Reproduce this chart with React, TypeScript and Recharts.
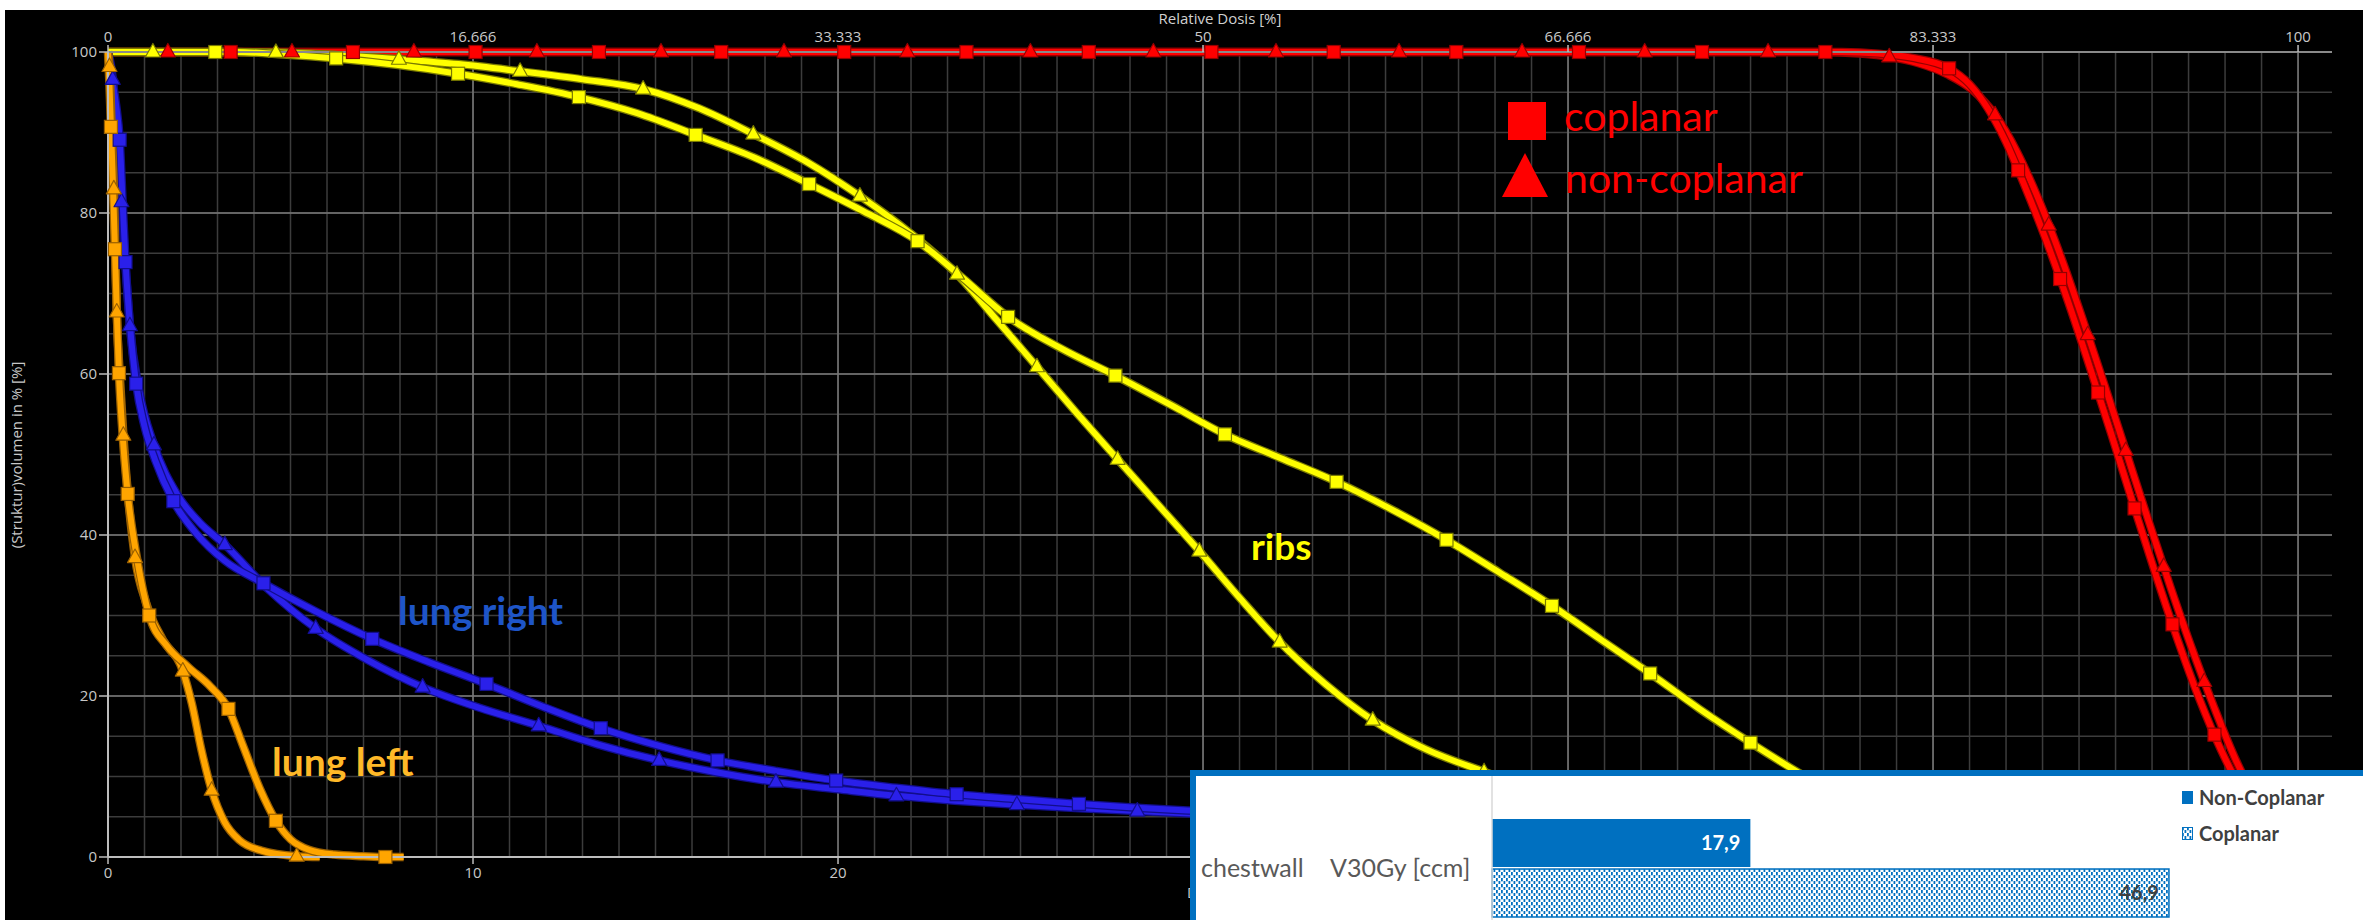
import React from 'react';
import {
  ComposedChart,
  Line,
  XAxis,
  YAxis,
  CartesianGrid,
  BarChart,
  Bar,
  LabelList,
} from 'recharts';

type Pt = [number, number]; // [dose in Gy, volume in %]

// ---------- axes ----------
const DOSE_MAX = 60.93; // Gy at the right edge of the plot
const PRESCRIPTION = 60; // Gy that equals 100 % relative dose

const doseTicks = [0, 10, 20, 30, 40, 50, 60];
const relativeDoseTicks = [0, 16.666, 33.333, 50, 66.666, 83.333, 100];
const volumeTicks = [0, 20, 40, 60, 80, 100];

// grid: fine lines every 1 Gy / 5 %, coarse lines every 10 Gy / 20 %
const fineDoseGrid = Array.from({ length: 60 }, (_, i) => i + 1);
const fineVolumeGrid = Array.from({ length: 19 }, (_, i) => (i + 1) * 5);
const coarseDoseGrid = [10, 20, 30, 40, 50, 60];
const coarseVolumeGrid = [20, 40, 60, 80];

// ---------- PTV (red) ----------
const ptvCoplanarCurve: Pt[] = [
  [0, 100], [47.5, 100], [48.5, 99.8], [49.4, 99.3], [50.44, 97.97], [51.0, 96.0], [51.5, 93.0],
  [52.0, 88.8], [52.5, 83.5], [53.1, 76.6], [53.7, 69.0], [54.3, 60.8], [54.9, 52.3], [55.5, 43.6],
  [56.1, 35.1], [56.7, 27.0], [57.3, 19.6], [57.9, 13.2], [58.5, 8.0], [59.1, 4.3], [59.7, 1.9],
  [60.3, 0.6], [60.93, 0],
];
const ptvCoplanarMarks: Pt[] = [
  [3.36, 100], [6.71, 100], [10.07, 100], [13.45, 100], [16.8, 100], [20.17, 100], [23.52, 100],
  [26.87, 100], [30.23, 100], [33.58, 100], [36.94, 100], [40.3, 100], [43.67, 100], [47.05, 100],
  [50.44, 97.97], [52.33, 85.3], [53.48, 71.8], [54.52, 57.7], [55.52, 43.3], [56.56, 28.9],
  [57.71, 15.2], [59.27, 3.6],
];
const ptvNonCoplanarCurve: Pt[] = [
  [0, 100], [47.0, 100], [48.0, 99.8], [48.8, 99.4], [49.6, 98.6], [50.4, 97.2], [51.1, 95.2],
  [51.7, 92.2], [52.3, 87.6], [52.9, 81.6], [53.5, 74.6], [54.1, 66.8], [54.7, 58.6], [55.3, 50.2],
  [55.9, 41.8], [56.5, 33.6], [57.1, 25.8], [57.7, 18.6], [58.3, 12.0], [58.9, 6.8], [59.5, 3.2],
  [60.1, 1.1], [60.6, 0.2], [60.93, 0],
];
const ptvNonCoplanarMarks: Pt[] = [
  [1.64, 100], [5.04, 100], [8.38, 100], [11.75, 100], [15.15, 100], [18.52, 100], [21.9, 100],
  [25.27, 100], [28.64, 100], [32.0, 100], [35.37, 100], [38.74, 100], [42.1, 100], [45.48, 100],
  [48.8, 99.4], [51.7, 92.2], [53.17, 78.5], [54.24, 64.9], [55.28, 50.5], [56.32, 36.1],
  [57.43, 21.8], [58.82, 7.4],
];

// ---------- ribs (yellow) ----------
const ribsCoplanarCurve: Pt[] = [
  [0, 100], [3.5, 100], [4.8, 99.7], [6.25, 99.2], [7.9, 98.4], [9.59, 97.3], [11.2, 96.0],
  [12.9, 94.4], [14.5, 92.4], [16.1, 89.7], [17.7, 86.9], [19.21, 83.6], [20.7, 80.2], [22.18, 76.5],
  [23.4, 72.0], [24.66, 67.1], [26.1, 63.2], [27.6, 59.8], [29.1, 56.2], [30.6, 52.5], [32.1, 49.6],
  [33.66, 46.6], [35.2, 43.1], [36.67, 39.4], [38.1, 35.4], [39.56, 31.2], [40.9, 27.0],
  [42.25, 22.8], [43.6, 18.4], [45.0, 14.2], [46.5, 10.0], [48.0, 6.5], [49.5, 3.6], [51.0, 1.6],
  [52.5, 0.5], [54.0, 0],
];
const ribsCoplanarMarks: Pt[] = [
  [2.94, 100], [6.25, 99.2], [9.59, 97.3], [12.9, 94.4], [16.1, 89.7], [19.21, 83.6], [22.18, 76.5],
  [24.66, 67.1], [27.6, 59.8], [30.6, 52.5], [33.66, 46.6], [36.67, 39.4], [39.56, 31.2],
  [42.25, 22.8], [45.0, 14.2], [47.8, 7.0],
];
const ribsNonCoplanarCurve: Pt[] = [
  [0, 100], [3.0, 100], [4.6, 99.95], [6.3, 99.6], [7.97, 99.1], [9.6, 98.5], [11.29, 97.6],
  [13.0, 96.6], [14.66, 95.4], [16.2, 93.0], [17.68, 89.8], [19.2, 86.2], [20.6, 82.1],
  [21.95, 77.6], [23.26, 72.4], [24.35, 66.7], [25.45, 60.9], [26.55, 55.1], [27.66, 49.4],
  [28.8, 43.6], [29.9, 38.0], [31.0, 32.2], [32.1, 26.7], [33.35, 21.5], [34.65, 17.0],
  [36.1, 13.4], [37.7, 10.6], [39.5, 7.8], [41.5, 5.2], [43.5, 3.0], [45.5, 1.4], [47.5, 0.4],
  [49.0, 0],
];
const ribsNonCoplanarMarks: Pt[] = [
  [1.23, 100], [4.6, 99.95], [7.97, 99.1], [11.29, 97.6], [14.66, 95.4], [17.68, 89.8], [20.6, 82.1],
  [23.26, 72.4], [25.45, 60.9], [27.66, 49.4], [29.9, 38.0], [32.1, 26.7], [34.65, 17.0],
  [37.7, 10.6], [41.0, 5.8],
];

// ---------- lung right (blue) ----------
const lungRightCoplanarCurve: Pt[] = [
  [0, 100], [0.1, 97], [0.22, 93.5], [0.32, 89.1], [0.4, 81.5], [0.48, 73.9], [0.6, 66.2],
  [0.77, 58.8], [1.0, 53.5], [1.3, 49.2], [1.79, 44.2], [2.4, 40.3], [3.2, 36.8], [4.26, 34.0],
  [5.7, 30.5], [7.24, 27.1], [8.8, 24.2], [10.37, 21.5], [11.9, 18.7], [13.5, 16.0], [15.1, 13.8],
  [16.7, 12.0], [18.3, 10.7], [19.95, 9.5], [21.6, 8.6], [23.25, 7.8], [24.9, 7.2], [26.6, 6.6],
  [28.3, 6.1], [29.95, 5.7], [33.0, 5.0], [36.0, 4.4], [40.0, 3.6], [45.0, 2.6], [50.0, 1.6],
  [55.0, 0.8], [60.0, 0.2],
];
const lungRightCoplanarMarks: Pt[] = [
  [0.32, 89.1], [0.48, 73.9], [0.77, 58.8], [1.79, 44.2], [4.26, 34.0], [7.24, 27.1], [10.37, 21.5],
  [13.5, 16.0], [16.7, 12.0], [19.95, 9.5], [23.25, 7.8], [26.6, 6.6], [29.95, 5.7], [33.3, 4.95],
];
const lungRightNonCoplanarCurve: Pt[] = [
  [0, 100], [0.13, 96.6], [0.25, 89.0], [0.37, 81.4], [0.48, 73.5], [0.6, 66.0], [0.85, 58.0],
  [1.26, 51.2], [1.9, 45.0], [2.5, 41.6], [3.2, 38.8], [4.4, 33.2], [5.69, 28.4], [7.1, 24.5],
  [8.62, 21.1], [10.2, 18.5], [11.8, 16.3], [13.4, 14.0], [15.1, 12.0], [16.7, 10.5], [18.3, 9.3],
  [20.0, 8.4], [21.6, 7.6], [23.2, 7.0], [24.9, 6.5], [26.5, 6.1], [28.2, 5.7], [31.5, 5.0],
  [35.0, 4.3], [40.0, 3.4], [45.0, 2.5], [50.0, 1.5], [55.0, 0.7], [60.0, 0.1],
];
const lungRightNonCoplanarMarks: Pt[] = [
  [0.13, 96.6], [0.37, 81.4], [0.6, 66.0], [1.26, 51.2], [3.2, 38.8], [5.69, 28.4], [8.62, 21.1],
  [11.8, 16.3], [15.1, 12.0], [18.3, 9.3], [21.6, 7.6], [24.9, 6.5], [28.2, 5.7], [31.5, 5.0],
];

// ---------- lung left (orange) ----------
const lungLeftCoplanarCurve: Pt[] = [
  [0, 100], [0.04, 96], [0.08, 90.7], [0.14, 83], [0.19, 75.5], [0.24, 67.8], [0.3, 60.1],
  [0.4, 52.5], [0.54, 45.1], [0.78, 37.5], [1.13, 30.0], [1.6, 26.3], [2.2, 23.6], [2.8, 21.2],
  [3.3, 18.4], [3.7, 13.8], [4.15, 8.6], [4.6, 4.5], [5.0, 2.2], [5.5, 0.9], [6.2, 0.3], [7.0, 0.1],
  [7.6, 0], [8.1, 0],
];
const lungLeftCoplanarMarks: Pt[] = [
  [0.08, 90.7], [0.19, 75.5], [0.3, 60.1], [0.54, 45.1], [1.13, 30.0], [3.3, 18.4], [4.6, 4.5],
  [7.6, 0],
];
const lungLeftNonCoplanarCurve: Pt[] = [
  [0, 100], [0.04, 98.2], [0.1, 90.5], [0.16, 83.0], [0.2, 75.5], [0.24, 67.7], [0.32, 60.0],
  [0.42, 52.4], [0.55, 44.8], [0.74, 37.2], [1.05, 31.5], [1.5, 27.0], [2.05, 23.1], [2.3, 19.0],
  [2.55, 13.5], [2.84, 8.3], [3.2, 4.3], [3.6, 2.1], [4.2, 0.8], [5.17, 0.1], [5.8, 0],
];
const lungLeftNonCoplanarMarks: Pt[] = [
  [0.04, 98.2], [0.16, 83.0], [0.24, 67.7], [0.42, 52.4], [0.74, 37.2], [2.05, 23.1], [2.84, 8.3],
  [5.17, 0.1],
];

// ---------- inset bar chart ----------
const structures = ['chestwall'];
const metrics = ['V30Gy [ccm]'];
const nonCoplanarV30 = [17.9];
const coplanarV30 = [46.9];
const barSeriesNames = ['Non-Coplanar', 'Coplanar'];

// ---------- labels ----------
const planLegend = ['coplanar', 'non-coplanar'];
const structureLabels = ['lung right', 'lung left', 'ribs'];
const axisTitles = ['Relative Dosis [%]', '(Struktur)volumen in % [%]', 'Dosis [Gy]'];

type Shape = 'square' | 'triangle';
interface DvhSeries {
  id: string;
  curve: Pt[];
  marks: Pt[];
  color: string;
  edge: string;
  shape: Shape;
}

const dvhSeries: DvhSeries[] = [
  { id: 'ptv-nc', curve: ptvNonCoplanarCurve, marks: ptvNonCoplanarMarks, color: '#ff0000', edge: '#960000', shape: 'triangle' },
  { id: 'ptv-c', curve: ptvCoplanarCurve, marks: ptvCoplanarMarks, color: '#ff0000', edge: '#960000', shape: 'square' },
  { id: 'ribs-nc', curve: ribsNonCoplanarCurve, marks: ribsNonCoplanarMarks, color: '#ffff00', edge: '#7a7a00', shape: 'triangle' },
  { id: 'ribs-c', curve: ribsCoplanarCurve, marks: ribsCoplanarMarks, color: '#ffff00', edge: '#7a7a00', shape: 'square' },
  { id: 'lr-nc', curve: lungRightNonCoplanarCurve, marks: lungRightNonCoplanarMarks, color: '#2a20ea', edge: '#120e8c', shape: 'triangle' },
  { id: 'lr-c', curve: lungRightCoplanarCurve, marks: lungRightCoplanarMarks, color: '#2a20ea', edge: '#120e8c', shape: 'square' },
  { id: 'll-nc', curve: lungLeftNonCoplanarCurve, marks: lungLeftNonCoplanarMarks, color: '#ffa500', edge: '#9a6000', shape: 'triangle' },
  { id: 'll-c', curve: lungLeftCoplanarCurve, marks: lungLeftCoplanarMarks, color: '#ffa500', edge: '#9a6000', shape: 'square' },
];

const toRows = (pts: Pt[]) => pts.map(([d, v]) => ({ d, v }));

// anchors the relative-dose axis so that its ticks are laid out
const relativeDoseRows = relativeDoseTicks.map((d) => ({ d, v: 100 }));

const markerDot = (shape: Shape, fill: string, edge: string, id: string) => (props: any) => {
  const { cx, cy, index } = props;
  const key = `${id}-${index}`;
  if (typeof cx !== 'number' || typeof cy !== 'number') return <g key={key} />;
  if (shape === 'square') {
    return (
      <rect key={key} x={cx - 6.5} y={cy - 6.5} width={13} height={13} fill={fill} stroke={edge} strokeWidth={1.2} />
    );
  }
  return (
    <polygon
      key={key}
      points={`${cx},${cy - 8.5} ${cx + 7.5},${cy + 5} ${cx - 7.5},${cy + 5}`}
      fill={fill}
      stroke={edge}
      strokeWidth={1.2}
      strokeLinejoin="round"
    />
  );
};

const tickFont = { fill: '#c8c8c8', fontSize: 15, fontFamily: '"Open Sans", sans-serif' };
const axisGray = '#bdbdbd';
const frameGray = '#8a8a8a';

const decimalComma = (v: any) => String(v).replace('.', ',');

const barRows = structures.map((s, i) => ({
  structure: s,
  metric: metrics[i],
  nonCoplanar: nonCoplanarV30[i],
  coplanar: coplanarV30[i],
}));

const CategoryTick = (props: any) => {
  const { y, payload } = props;
  const row = barRows.find((r) => r.structure === payload.value);
  const font = { fill: '#595959', fontSize: 25, fontFamily: 'Lato, sans-serif' };
  return (
    <g>
      <text x={5} y={y} dy="0.35em" {...font}>
        {payload.value}
      </text>
      <text x={134} y={y} dy="0.35em" {...font}>
        {row ? row.metric : ''}
      </text>
    </g>
  );
};

const DotsPattern = ({ id }: { id: string }) => (
  <pattern id={id} width={5} height={6} patternUnits="userSpaceOnUse">
    <rect width={5} height={6} fill="#ffffff" />
    <rect x={0} y={0} width={1.8} height={3.3} fill="#0070C0" />
    <rect x={2.5} y={3} width={1.8} height={3.3} fill="#0070C0" />
  </pattern>
);

export default function App() {
  const legendText: React.CSSProperties = {
    fontFamily: 'Lato, sans-serif',
    fontWeight: 700,
    fontSize: 20,
    color: '#404040',
    whiteSpace: 'nowrap',
  };
  const annot = { fontFamily: 'Lato, sans-serif', fontWeight: 700 } as const;

  return (
    <div
      style={{
        position: 'absolute',
        left: 0,
        top: 0,
        width: 2363,
        height: 920,
        overflow: 'hidden',
        background: '#ffffff',
      }}
    >
      <div style={{ position: 'absolute', left: 5, top: 10, width: 2358, height: 910, background: '#000000' }} />

      <div style={{ position: 'absolute', left: 0, top: 0 }}>
        <ComposedChart width={2363} height={920} margin={{ top: 22, right: 31, bottom: 23, left: 48 }}>
          <CartesianGrid
            verticalValues={fineDoseGrid}
            horizontalValues={fineVolumeGrid}
            stroke="#3c3c3c"
            strokeWidth={1.5}
          />
          <CartesianGrid
            verticalValues={coarseDoseGrid}
            horizontalValues={coarseVolumeGrid}
            stroke="#777777"
            strokeWidth={1.5}
          />
          <XAxis
            dataKey="d"
            type="number"
            domain={[0, DOSE_MAX]}
            ticks={doseTicks}
            interval={0}
            height={40}
            tickSize={7}
            tickMargin={3}
            axisLine={{ stroke: axisGray, strokeWidth: 2 }}
            tickLine={{ stroke: axisGray, strokeWidth: 1.5 }}
            tick={tickFont}
          />
          <XAxis
            xAxisId="top"
            dataKey="d"
            orientation="top"
            type="number"
            domain={[0, (DOSE_MAX / PRESCRIPTION) * 100]}
            allowDataOverflow
            ticks={relativeDoseTicks}
            interval={0}
            height={30}
            tickSize={7}
            tickMargin={3}
            tickFormatter={(v: number) => String(v)}
            axisLine={{ stroke: frameGray, strokeWidth: 2 }}
            tickLine={{ stroke: axisGray, strokeWidth: 1.5 }}
            tick={tickFont}
          />
          <YAxis
            dataKey="v"
            type="number"
            domain={[0, 100]}
            ticks={volumeTicks}
            interval={0}
            width={60}
            tickSize={9}
            tickMargin={2}
            axisLine={{ stroke: axisGray, strokeWidth: 2 }}
            tickLine={{ stroke: axisGray, strokeWidth: 1.5 }}
            tick={tickFont}
          />
          <YAxis
            yAxisId="frame"
            orientation="right"
            type="number"
            domain={[0, 100]}
            width={0}
            tick={false}
            tickLine={false}
            axisLine={{ stroke: frameGray, strokeWidth: 2 }}
          />
          <Line
            xAxisId="top"
            data={relativeDoseRows}
            dataKey="v"
            stroke="none"
            dot={false}
            activeDot={false}
            isAnimationActive={false}
            legendType="none"
          />
          {dvhSeries.flatMap((s) => [
            <Line
              key={`${s.id}-edge`}
              data={toRows(s.curve)}
              dataKey="v"
              type="monotone"
              stroke={s.edge}
              strokeWidth={8.5}
              dot={false}
              activeDot={false}
              isAnimationActive={false}
              legendType="none"
            />,
            <Line
              key={`${s.id}-line`}
              data={toRows(s.curve)}
              dataKey="v"
              type="monotone"
              stroke={s.color}
              strokeWidth={6}
              dot={false}
              activeDot={false}
              isAnimationActive={false}
              legendType="none"
            />,
            <Line
              key={`${s.id}-marks`}
              data={toRows(s.marks)}
              dataKey="v"
              stroke="none"
              dot={markerDot(s.shape, s.color, s.edge, s.id)}
              activeDot={false}
              isAnimationActive={false}
              legendType="none"
            />,
          ])}
        </ComposedChart>
      </div>

      <svg width={2363} height={920} style={{ position: 'absolute', left: 0, top: 0, pointerEvents: 'none' }}>
        <text x={1220} y={18} textAnchor="middle" dominantBaseline="central" fill="#d0d0d0" fontSize={15} fontFamily='"Open Sans", sans-serif'>
          {axisTitles[0]}
        </text>
        <text
          x={16}
          y={455}
          transform="rotate(-90 16 455)"
          textAnchor="middle"
          dominantBaseline="central"
          fill="#c8c8c8"
          fontSize={15}
          fontFamily='"Open Sans", sans-serif'
        >
          {axisTitles[1]}
        </text>
        <text x={1222} y={892} textAnchor="middle" dominantBaseline="central" fill="#c8c8c8" fontSize={15} fontFamily='"Open Sans", sans-serif'>
          {axisTitles[2]}
        </text>

        <text x={398} y={625} fill="#1e55c8" fontSize={39} {...annot}>
          {structureLabels[0]}
        </text>
        <text x={272} y={776} fill="#ffb928" fontSize={39} {...annot}>
          {structureLabels[1]}
        </text>
        <text x={1251} y={560} fill="#ffff00" fontSize={37} {...annot}>
          {structureLabels[2]}
        </text>

        <rect x={1508} y={102} width={38} height={38} fill="#ff0000" />
        <polygon points="1502,197 1548,197 1525,153" fill="#ff0000" />
        <text x={1564} y={131} fill="#ff0000" fontSize={41} fontFamily="Lato, sans-serif">
          {planLegend[0]}
        </text>
        <text x={1565} y={193} fill="#ff0000" fontSize={41} fontFamily="Lato, sans-serif">
          {planLegend[1]}
        </text>
      </svg>

      <div
        style={{
          position: 'absolute',
          left: 1190,
          top: 770,
          width: 1260,
          height: 260,
          boxSizing: 'border-box',
          borderLeft: '6px solid #0070C0',
          borderTop: '6px solid #0070C0',
          background: '#ffffff',
        }}
      >
        <BarChart
          width={1240}
          height={184}
          data={barRows}
          layout="vertical"
          margin={{ top: 0, right: 0, bottom: 0, left: 0 }}
          barSize={48}
          barGap={2}
        >
          <defs>
            <DotsPattern id="coplanarDots" />
          </defs>
          <XAxis type="number" domain={[0, 65.4]} hide />
          <YAxis
            type="category"
            dataKey="structure"
            width={296}
            tick={<CategoryTick />}
            tickLine={false}
            axisLine={{ stroke: '#d9d9d9', strokeWidth: 1.5 }}
          />
          <Bar dataKey="nonCoplanar" name={barSeriesNames[0]} fill="#0070C0" isAnimationActive={false}>
            <LabelList
              dataKey="nonCoplanar"
              position="insideRight"
              offset={10}
              formatter={decimalComma}
              fill="#ffffff"
              fontSize={20}
              fontWeight={700}
              fontFamily="Lato, sans-serif"
            />
          </Bar>
          <Bar
            dataKey="coplanar"
            name={barSeriesNames[1]}
            fill="url(#coplanarDots)"
            stroke="#0070C0"
            strokeWidth={1.5}
            isAnimationActive={false}
          >
            <LabelList
              dataKey="coplanar"
              position="insideRight"
              offset={10}
              formatter={decimalComma}
              fill="#404040"
              fontSize={20}
              fontWeight={700}
              fontFamily="Lato, sans-serif"
            />
          </Bar>
        </BarChart>

        <div style={{ position: 'absolute', left: 986, top: 9, height: 24, display: 'flex', alignItems: 'center', gap: 6 }}>
          <span style={{ display: 'inline-block', width: 11, height: 13, background: '#0070C0' }} />
          <span style={legendText}>{barSeriesNames[0]}</span>
        </div>
        <div style={{ position: 'absolute', left: 986, top: 45, height: 24, display: 'flex', alignItems: 'center', gap: 6 }}>
          <svg width={11} height={13} style={{ display: 'block' }}>
            <defs>
              <DotsPattern id="coplanarDotsIcon" />
            </defs>
            <rect x={0.5} y={0.5} width={10} height={12} fill="url(#coplanarDotsIcon)" stroke="#0070C0" strokeWidth={1} />
          </svg>
          <span style={legendText}>{barSeriesNames[1]}</span>
        </div>
      </div>
    </div>
  );
}
